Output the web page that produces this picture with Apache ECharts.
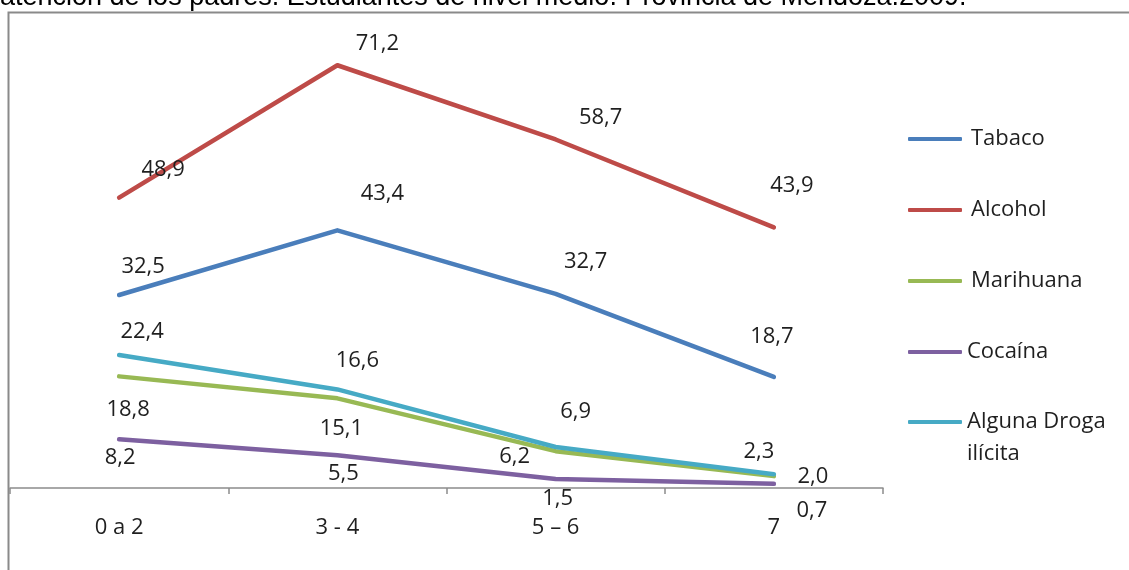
<!DOCTYPE html>
<html>
<head>
<meta charset="utf-8">
<script src="https://cdn.jsdelivr.net/npm/echarts@6/dist/echarts.min.js"></script>
<style>
  html, body { margin: 0; padding: 0; background: #fff; }
  #chart { width: 1129px; height: 570px; }
</style>
</head>
<body>
<div id="chart"></div>
<script>
// ---- data ----
const titleText = 'atención de los padres. Estudiantes de nivel medio. Provincia de Mendoza.2009.';
const categories = ['0 a 2', '3 - 4', '5 – 6', '7'];
const seriesNames = ['Tabaco', 'Alcohol', 'Marihuana', 'Cocaína', 'Alguna Droga ilícita'];
const tabaco = [32.5, 43.4, 32.7, 18.7];
const alcohol = [48.9, 71.2, 58.7, 43.9];
const marihuana = [18.8, 15.1, 6.2, 2.0];
const cocaina = [8.2, 5.5, 1.5, 0.7];
const algunaDroga = [22.4, 16.6, 6.9, 2.3];
const yMin = 0, yMax = 80;

// ---- styling (label placement offsets, colours) ----
const colors = ['#4A7EBB', '#BE4B48', '#98B954', '#7D60A0', '#46AAC5'];
const labelOffsets = [
  [[24, -28], [45, -37], [30, -32], [-2, -40]],
  [[44, -28], [40, -22], [45, -22], [18, -42]],
  [[9, 33], [4, 30], [-41, 6], [39, 1]],
  [[1, 18], [6, 18], [2, 20], [38, 27]],
  [[23, -23], [20, -29], [20, -35], [-15, -23]]
];
const allValues = [tabaco, alcohol, marihuana, cocaina, algunaDroga];
const FONT = '"Open Sans", Lato, sans-serif';
const FS = 22;

const chart = echarts.init(document.getElementById('chart'), null, { renderer: 'canvas' });

const series = allValues.map((vals, si) => ({
  name: seriesNames[si],
  type: 'line',
  data: vals.map((v, i) => ({
    value: v,
    label: { offset: labelOffsets[si][i] }
  })),
  symbol: 'circle',
  symbolSize: 1,
  showSymbol: true,
  itemStyle: { color: 'rgba(0,0,0,0)', borderWidth: 0 },
  lineStyle: { color: colors[si], width: 4.5, cap: 'round', join: 'round' },
  label: {
    show: true,
    position: 'inside',
    align: 'center',
    verticalAlign: 'middle',
    color: '#1f1f1f',
    fontFamily: FONT,
    fontSize: FS,
    formatter: p => p.value.toFixed(1).replace('.', ',')
  },
  emphasis: { disabled: true },
  animation: false,
  z: 3
}));

const legendItem = i => {
  const item = { name: seriesNames[i], itemStyle: { color: colors[i], opacity: 1, borderWidth: 0 } };
  if (i < 3) item.textStyle = { padding: [0, 0, 0, 4] };
  return item;
};
const legendBase = {
  orient: 'vertical',
  left: 908,
  padding: 0,
  itemWidth: 54,
  itemHeight: 4,
  itemGap: 49,
  icon: 'roundRect',
  textStyle: { fontFamily: FONT, fontSize: FS, color: '#1f1f1f' },
  selectedMode: false
};

chart.setOption({
  animation: false,
  backgroundColor: '#ffffff',
  title: {
    text: titleText,
    left: 0,
    top: -16,
    padding: 0,
    textStyle: {
      fontFamily: '"Liberation Sans", Arial, sans-serif',
      fontWeight: 'normal',
      fontSize: 27,
      color: '#000'
    }
  },
  graphic: [{
    type: 'rect',
    shape: { x: 8.5, y: 12.5, width: 1200, height: 700 },
    style: { fill: 'none', stroke: '#8a8a8a', lineWidth: 2 },
    silent: true,
    z: 0
  }],
  grid: { left: 10, right: 246, top: 13, bottom: 82, containLabel: false },
  xAxis: {
    type: 'category',
    data: categories,
    boundaryGap: true,
    axisLine: { show: true, lineStyle: { color: '#8c8c8c', width: 1.5 } },
    axisTick: { show: true, length: 6, lineStyle: { color: '#8c8c8c', width: 1.5 } },
    axisLabel: { color: '#1f1f1f', fontFamily: FONT, fontSize: FS, margin: 29 },
    splitLine: { show: false }
  },
  yAxis: {
    type: 'value',
    min: yMin,
    max: yMax,
    show: false
  },
  legend: [
    Object.assign({}, legendBase, {
      top: 128,
      data: [0, 1, 2, 3].map(legendItem)
    }),
    Object.assign({}, legendBase, {
      top: 374,
      data: [legendItem(4)],
      textStyle: { fontFamily: FONT, fontSize: FS, color: '#1f1f1f', lineHeight: 32 },
      formatter: () => '\nAlguna Droga\nilícita'
    })
  ],
  series: series
});
</script>
</body>
</html>
